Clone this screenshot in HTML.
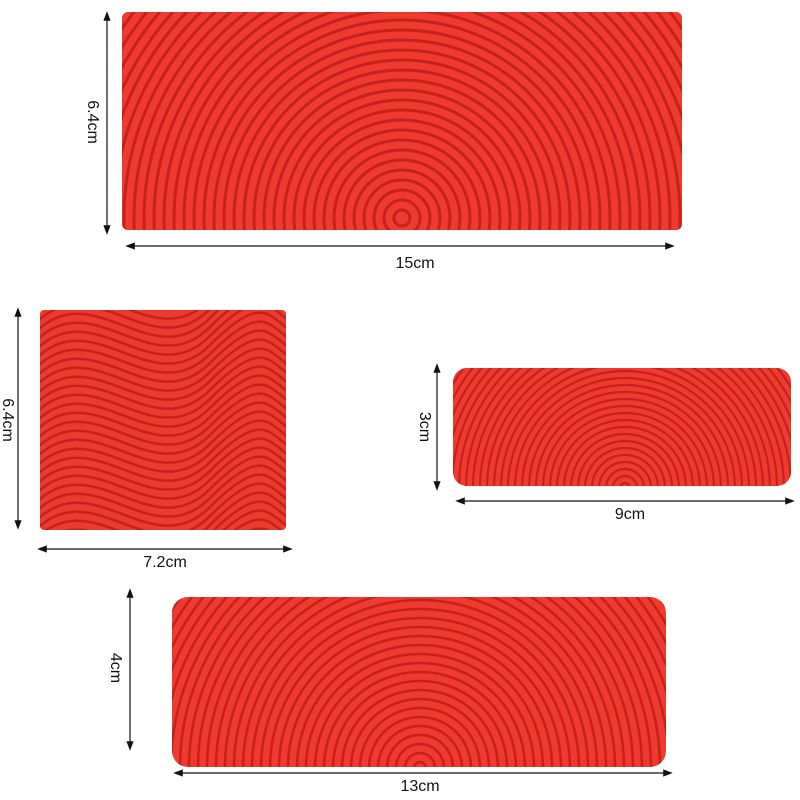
<!DOCTYPE html>
<html><head><meta charset="utf-8"><style>
html,body{margin:0;padding:0;background:#fff;width:800px;height:800px;overflow:hidden;}
#w{position:relative;width:800px;height:800px;overflow:hidden;}
svg{display:block;position:absolute;left:0;top:0}
text{font-family:"Liberation Sans",sans-serif;font-size:16px;fill:#111}
</style>
<script>
document.addEventListener("DOMContentLoaded",function(){
var NS="http://www.w3.org/2000/svg";
function rings(id,cx,cy,r0,step,n,w){
 var g=document.getElementById(id);
 for(var i=0;i<n;i++){var c=document.createElementNS(NS,"circle");
 c.setAttribute("cx",cx);c.setAttribute("cy",cy);c.setAttribute("r",r0+i*step);
 c.setAttribute("fill","none");c.setAttribute("stroke","#c4221c");c.setAttribute("stroke-width",w);
 g.appendChild(c);}
}
rings("g1",402,218,8,10,45,3);
rings("g3",625,488,5,7,40,2.2);
rings("g4",420,768,6,9,45,2.6);
var g=document.getElementById("g2");
for(var i=0;i<30;i++){var y=300+i*9;var p=document.createElementNS(NS,"path");
 p.setAttribute("d","M30,"+(y+20)+" C90,"+(y-50)+" 150,"+(y+60)+" 210,"+(y)+" S270,"+(y-20)+" 300,"+(y-10));
 p.setAttribute("fill","none");p.setAttribute("stroke","#c4221c");p.setAttribute("stroke-width","2.5");g.appendChild(p);}
});
</script>
</head><body><div id="w">
<svg width="800" height="800" viewBox="0 0 800 800" xmlns="http://www.w3.org/2000/svg">
<defs>
<marker id="a" markerWidth="8" markerHeight="8" refX="4" refY="4" orient="auto-start-reverse"><path d="M8,4 L0,1 L0,7 z" fill="#111"/></marker>
<clipPath id="c1"><rect x="122" y="12" width="560" height="218" rx="6"/></clipPath>
<clipPath id="c2"><rect x="40" y="310" width="246" height="220" rx="4"/></clipPath>
<clipPath id="c3"><rect x="453" y="368" width="338" height="118" rx="14"/></clipPath>
<clipPath id="c4"><rect x="172" y="597" width="494" height="170" rx="16"/></clipPath>
</defs>
<rect x="122" y="12" width="560" height="218" rx="6" fill="#f03a30"/>
<rect x="40" y="310" width="246" height="220" rx="4" fill="#ec3a2e"/>
<rect x="453" y="368" width="338" height="118" rx="14" fill="#f03a30"/>
<rect x="172" y="597" width="494" height="170" rx="16" fill="#f03a30"/>
<g id="g1" clip-path="url(#c1)"></g>
<g id="g2" clip-path="url(#c2)"></g>
<g id="g3" clip-path="url(#c3)"></g>
<g id="g4" clip-path="url(#c4)"></g>
<g stroke="#111" stroke-width="1.2" fill="none">
<line x1="107" y1="16" x2="107" y2="230" marker-start="url(#a)" marker-end="url(#a)"/>
<line x1="130" y1="246" x2="670" y2="246" marker-start="url(#a)" marker-end="url(#a)"/>
<line x1="18" y1="312" x2="18" y2="525" marker-start="url(#a)" marker-end="url(#a)"/>
<line x1="42" y1="549" x2="288" y2="549" marker-start="url(#a)" marker-end="url(#a)"/>
<line x1="437" y1="368" x2="437" y2="486" marker-start="url(#a)" marker-end="url(#a)"/>
<line x1="460" y1="501" x2="790" y2="501" marker-start="url(#a)" marker-end="url(#a)"/>
<line x1="130" y1="593" x2="130" y2="746" marker-start="url(#a)" marker-end="url(#a)"/>
<line x1="178" y1="773" x2="668" y2="773" marker-start="url(#a)" marker-end="url(#a)"/>
</g>
<text x="415" y="268" text-anchor="middle">15cm</text>
<text transform="translate(88,122) rotate(90)" text-anchor="middle">6.4cm</text>
<text transform="translate(3,420) rotate(90)" text-anchor="middle">6.4cm</text>
<text x="165" y="567" text-anchor="middle">7.2cm</text>
<text transform="translate(420,427) rotate(90)" text-anchor="middle">3cm</text>
<text x="630" y="519" text-anchor="middle">9cm</text>
<text transform="translate(111,668) rotate(90)" text-anchor="middle">4cm</text>
<text x="420" y="791" text-anchor="middle">13cm</text>
</svg>
</div></body></html>
